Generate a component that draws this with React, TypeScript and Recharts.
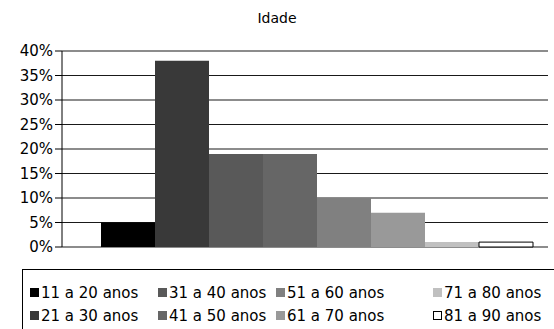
import { BarChart, Bar, XAxis, YAxis, CartesianGrid, Legend } from 'recharts'

const categories = ['Idade']
const seriesNames = [
  '11 a 20 anos',
  '21 a 30 anos',
  '31 a 40 anos',
  '41 a 50 anos',
  '51 a 60 anos',
  '61 a 70 anos',
  '71 a 80 anos',
  '81 a 90 anos',
]
const seriesValues = [5, 38, 19, 19, 10, 7, 1, 1]
const yTicks = [0, 5, 10, 15, 20, 25, 30, 35, 40]

const FILLS = ['#000000', '#393939', '#595959', '#666666', '#808080', '#999999', '#c0c0c0', '#ffffff']
const FONT = '"DejaVu Sans", sans-serif'
const COL_WIDTHS = [128, 118, 157, 120]

const data = categories.map((name) => {
  const row: Record<string, string | number> = { name }
  seriesNames.forEach((s, i) => {
    row[s] = seriesValues[i]
  })
  return row
})

function LegendBox() {
  return (
    <div
      style={{
        position: 'absolute',
        left: 22,
        top: 269,
        width: 560,
        height: 80,
        border: '1px solid #000',
        boxSizing: 'border-box',
        fontFamily: FONT,
        fontSize: 15,
        color: '#000',
      }}
    >
      <div
        style={{
          position: 'absolute',
          left: 7,
          top: 11,
          display: 'grid',
          gridAutoFlow: 'column',
          gridTemplateRows: '23px 23px',
          gridTemplateColumns: COL_WIDTHS.map((w) => w + 'px').join(' '),
        }}
      >
        {seriesNames.map((s, i) => (
          <div key={s} style={{ display: 'flex', alignItems: 'center', whiteSpace: 'nowrap' }}>
            <span
              style={{
                display: 'inline-block',
                width: 9,
                height: 9,
                boxSizing: 'border-box',
                background: FILLS[i],
                border: i === 7 ? '1px solid #000' : 'none',
                marginRight: 2,
              }}
            />
            {s}
          </div>
        ))}
      </div>
    </div>
  )
}

export default function App() {
  return (
    <div
      style={{
        position: 'absolute',
        left: 0,
        top: 0,
        width: 554,
        height: 329,
        overflow: 'hidden',
        background: '#fff',
      }}
    >
      <div
        style={{
          position: 'absolute',
          top: 10,
          left: 0,
          width: 554,
          textAlign: 'center',
          fontFamily: FONT,
          fontSize: 14,
          color: '#000',
        }}
      >
        Idade
      </div>
      <BarChart
        width={554}
        height={329}
        data={data}
        margin={{ top: 51, right: 6, bottom: 82, left: 0 }}
        barGap={0}
        barCategoryGap={17}
      >
        <CartesianGrid horizontal vertical={false} stroke="#000" strokeOpacity={0.9} />
        <XAxis dataKey="name" tick={false} tickLine={false} axisLine={{ stroke: '#000' }} padding={{ left: 22, right: 0 }} height={0} />
        <YAxis
          domain={[0, 40]}
          ticks={yTicks}
          interval={0}
          width={62}
          tickFormatter={(v) => `${v}%`}
          tick={{ fontSize: 15, fill: '#000', fontFamily: FONT }}
          tickLine={{ stroke: '#000' }}
          tickSize={7}
          axisLine={{ stroke: '#000' }}
        />
        <YAxis yAxisId="right" orientation="right" domain={[0, 40]} width={0} tick={false} tickLine={false} axisLine={{ stroke: '#000' }} />
        <Legend content={() => null} />
        {seriesNames.map((s, i) => (
          <Bar
            key={s}
            dataKey={s}
            fill={FILLS[i]}
            stroke={i === 7 ? '#000' : 'none'}
            strokeWidth={i === 7 ? 1 : 0}
            isAnimationActive={false}
          />
        ))}
      </BarChart>
      <LegendBox />
    </div>
  )
}
